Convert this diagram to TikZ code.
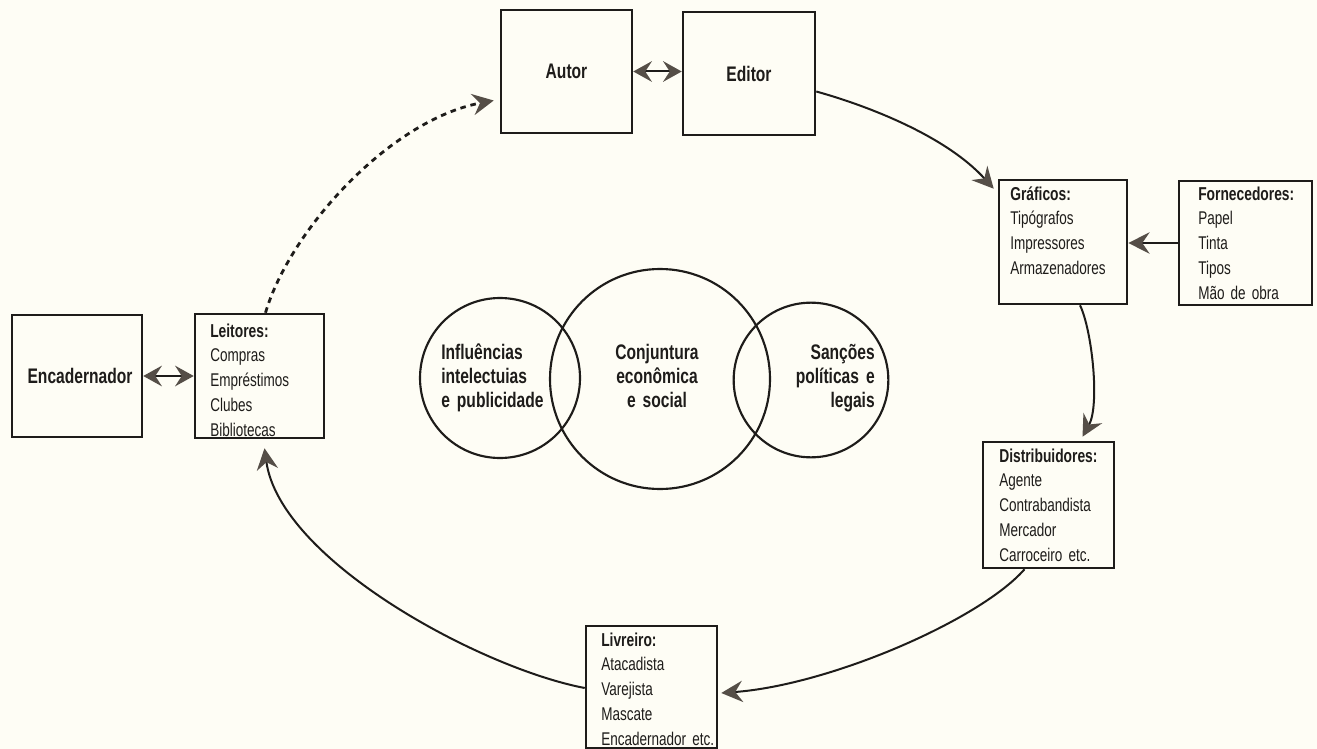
\documentclass[tikz,border=0pt]{standalone}
\usepackage{fontspec}
\setmainfont{Liberation Sans}[FakeStretch=0.735]
\newfontfamily\cnbold{Liberation Sans}[FakeStretch=0.74]
\usetikzlibrary{arrows.meta,calc,fit}
\definecolor{bg}{RGB}{254,253,245}
\definecolor{ink}{RGB}{30,28,26}
\definecolor{tipc}{RGB}{85,78,71}
\begin{document}
\begin{tikzpicture}[x=0.75pt,y=-0.75pt,
  box/.style={draw=ink, line width=1.9pt, inner sep=0pt},
  btxt/.style={text=ink, font=\cnbold\bfseries\fontsize{15.8}{18}\selectfont},
  lst/.style={anchor=base west, text width=95pt, align=left, inner sep=0pt, text=ink,
    font=\fontsize{13.8}{18.6}\selectfont},
  ctxt/.style={inner sep=0pt, text=ink, text width=95pt,
    font=\cnbold\bfseries\fontsize{15.8}{18}\selectfont},
  circ/.style={draw=ink, line width=1.6pt, circle, inner sep=0pt},
  arr/.style={draw=ink, line width=1.5pt,
    -{Stealth[length=16pt, width=16pt, inset=5.5pt, color=tipc]}},
  dbl/.style={draw=ink, line width=1.5pt,
    {Stealth[length=14pt, width=15.5pt, inset=5pt, color=tipc]}-{Stealth[length=14pt, width=15.5pt, inset=5pt, color=tipc]}},
  dsh/.style={draw=ink, line width=2.1pt, dash pattern=on 4.2pt off 3.6pt,
    -{Stealth[length=16pt, width=16pt, inset=5.5pt, color=tipc]}}
]
\fill[bg] (0,0) rectangle (1317,749);
\useasboundingbox (0,0) rectangle (1317,749);

% boxes
\node[box, fit={(501,10) (632,133)}] (autor) {};
\node[btxt] (tautor) at (autor.center) {Autor};
\node[box, fit={(683,12) (815,135)}] (editor) {};
\node[btxt] (teditor) at (editor.center) {Editor};
\node[box, fit={(12,315) (142,437)}] (encad) {};
\node[btxt] (tencad) at ($(encad.center)+(3,0)$) {Encadernador};

\node[box, fit={(999,180) (1127,304)}] (graf) {};
\node[lst] (tgraf) at (1010,200) {{\cnbold\bfseries\fontsize{14}{18.6}\selectfont Gráficos:}\\Tipógrafos\\Impressores\\Armazenadores};
\node[box, fit={(1179,181) (1312,305)}] (forn) {};
\node[lst] (tforn) at (1198,200) {{\cnbold\bfseries\fontsize{14}{18.6}\selectfont Fornecedores:}\\Papel\\Tinta\\Tipos\\Mão de obra};
\node[box, fit={(195,314) (324,438)}] (leit) {};
\node[lst] (tleit) at (210,337) {{\cnbold\bfseries\fontsize{14}{18.6}\selectfont Leitores:}\\Compras\\Empréstimos\\Clubes\\Bibliotecas};
\node[box, fit={(983,442) (1114,568)}] (dist) {};
\node[lst] (tdist) at (999,462) {{\cnbold\bfseries\fontsize{14}{18.6}\selectfont Distribuidores:}\\Agente\\Contrabandista\\Mercador\\Carroceiro etc.};
\node[box, fit={(586,626) (717,748)}] (livr) {};
\node[lst] (tlivr) at (601,646) {{\cnbold\bfseries\fontsize{14}{18.6}\selectfont Livreiro:}\\Atacadista\\Varejista\\Mascate\\Encadernador etc.};

% circles
\node[circ, minimum size=120pt] (c1) at (500,378) {};
\node[circ, minimum size=165pt] (c2) at (660,379) {};
\node[circ, minimum size=116pt] (c3) at (811,380) {};
\node[ctxt, anchor=base west, align=left] (tc1) at (441,359) {Influências\\intelectuias\\e publicidade};
\node[ctxt, anchor=base, align=center] (tc2) at (657,359) {Conjuntura\\econômica\\e social};
\node[ctxt, anchor=base east, align=right] (tc3) at (875,359) {Sanções\\políticas e\\legais};

% connectors
\draw[dbl] (autor.east) -- (autor.east -| editor.west);
\draw[dbl] (encad.east) -- (encad.east -| leit.west);
\draw[arr] (forn.west) -- (forn.west -| graf.east);
\draw[arr] ($(editor.east)+(0,18)$) .. controls (865,105) and (945,135) .. ($(graf.north west)+(-4,10)$);
\draw[arr] ($(graf.south)+(17,0)$) .. controls (1092,330) and (1100,405) .. ($(dist.north)+(34,-4)$);
\draw[arr] ($(dist.south)+(-24,0)$) .. controls (980,620) and (830,685) .. ($(livr.east)+(3,6)$);
\draw[arr] ($(livr.west)+(0,1)$) .. controls (480,668) and (280,560) .. ($(leit.south)+(5,9)$);
\draw[dsh] ($(leit.north)+(6,0)$) .. controls (290,230) and (390,120) .. ($(autor.west)+(-6,29)$);
\end{tikzpicture}
\end{document}
